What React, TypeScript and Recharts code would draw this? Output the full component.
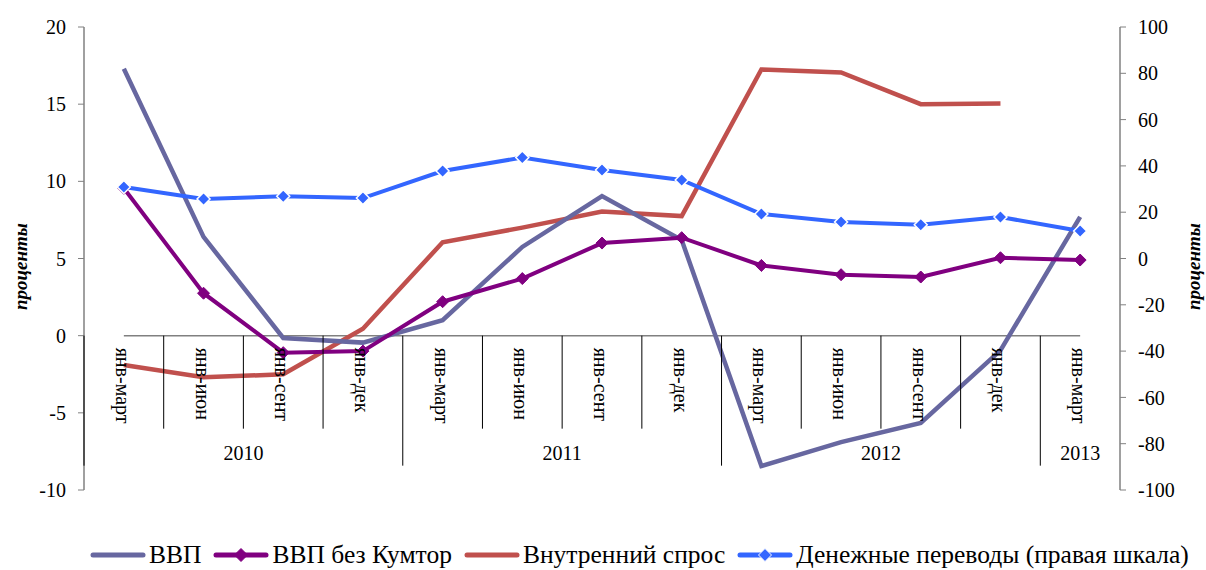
import React from 'react';
import { LineChart, Line, XAxis, YAxis, Legend } from 'recharts';

const categories = ['янв-март', 'янв-июн', 'янв-сент', 'янв-дек', 'янв-март', 'янв-июн', 'янв-сент', 'янв-дек', 'янв-март', 'янв-июн', 'янв-сент', 'янв-дек', 'янв-март'];
const yearLabels = ['2010', '2011', '2012', '2013'];
const yearSpans = [4, 4, 4, 1];
const gdp = [17.3, 6.4, -0.15, -0.45, 1.0, 5.75, 9.05, 6.2, -8.45, -6.9, -5.65, -0.95, 7.7];
const gdpExKumtor = [9.55, 2.75, -1.1, -1.0, 2.2, 3.7, 6.0, 6.35, 4.55, 3.95, 3.8, 5.05, 4.9];
const domesticDemand: (number | null)[] = [-1.9, -2.7, -2.5, 0.45, 6.05, 7.0, 8.05, 7.75, 17.25, 17.05, 15.0, 15.05, null];
const remittances = [30.9, 25.7, 26.9, 26.1, 37.8, 43.6, 38.2, 33.9, 19.2, 15.8, 14.6, 17.9, 11.9];

const leftTicks = [-10, -5, 0, 5, 10, 15, 20];
const rightTicks = [-100, -80, -60, -40, -20, 0, 20, 40, 60, 80, 100];

const series = [
  { key: 'gdp', name: 'ВВП', color: '#6767A0', marker: false },
  { key: 'gdpEx', name: 'ВВП без Кумтор', color: '#800080', marker: true },
  { key: 'dd', name: 'Внутренний спрос', color: '#C0504D', marker: false },
  { key: 'rem', name: 'Денежные переводы (правая шкала)', color: '#3366FF', marker: true },
];

const data = categories.map((c, i) => ({
  cat: c + '_' + i,
  label: c,
  gdp: gdp[i],
  gdpEx: gdpExKumtor[i],
  dd: domesticDemand[i],
  rem: remittances[i],
  zero: 0,
}));

const W = 1206;
const H = 570;
const PLOT = { left: 84, right: 1120, top: 27, bottom: 490 };
const YW = 60;
const XH = 30;
const M = { top: PLOT.top, left: PLOT.left - YW, right: W - PLOT.right - YW, bottom: H - PLOT.bottom - XH };
const plotW = PLOT.right - PLOT.left;
const plotH = PLOT.bottom - PLOT.top;
const band = plotW / categories.length;
const zeroY = PLOT.top + plotH * (20 / 30);
const FONT = '"Liberation Serif", "Times New Roman", Tinos, serif';

const yearStarts: number[] = [];
{
  let s = 0;
  yearSpans.forEach((n) => { yearStarts.push(s); s += n; });
}

const CatTick = (props: any) => {
  const { x, index, payload } = props;
  const idx = typeof index === 'number' ? index : 0;
  const left = x - band / 2;
  const yi = yearStarts.indexOf(idx);
  const isYearStart = yi >= 0;
  const label = categories[idx] ?? payload.value;
  return (
    <g>
      <line x1={left} x2={left} y1={zeroY} y2={zeroY + (isYearStart ? 130 : 93)} stroke="#000" strokeWidth={1} />
      <text
        x={x - 1}
        y={zeroY + 12}
        transform={`rotate(90 ${x - 1} ${zeroY + 12})`}
        textAnchor="start"
        dominantBaseline="central"
        fontFamily={FONT}
        fontSize={20}
        fill="#000"
      >
        {label}
      </text>
      {isYearStart && (
        <text
          x={left + (yearSpans[yi] * band) / 2}
          y={zeroY + 124}
          textAnchor="middle"
          fontFamily={FONT}
          fontSize={20}
          fill="#000"
        >
          {yearLabels[yi]}
        </text>
      )}
    </g>
  );
};

const makeDiamond = (color: string, r: number, stroke: string, sw: number) => (props: any) => {
  const { cx, cy, index } = props;
  if (cx == null || cy == null) return <g key={`d-${index}`} />;
  return (
    <path
      key={`d-${color}-${index}`}
      d={`M${cx},${cy - r} L${cx + r},${cy} L${cx},${cy + r} L${cx - r},${cy} Z`}
      fill={color}
      stroke={stroke}
      strokeWidth={sw}
    />
  );
};

const LegendContent = () => (
  <div style={{ display: 'flex', alignItems: 'center', paddingLeft: 90, height: 30, whiteSpace: 'nowrap' }}>
    {series.map((s) => (
      <div key={s.key} style={{ display: 'flex', alignItems: 'center', marginRight: 12 }}>
        <svg width={56} height={16} style={{ marginRight: 3, display: 'block' }}>
          <line x1={3} x2={53} y1={8} y2={8} stroke={s.color} strokeWidth={5} strokeLinecap="round" />
          {s.marker && (
            <path d="M28,1.5 L34.5,8 L28,14.5 L21.5,8 Z" fill={s.color} stroke={s.key === 'rem' ? '#fff' : s.color} strokeWidth={1} />
          )}
        </svg>
        <span style={{ fontFamily: FONT, fontSize: 25.5, color: '#000', lineHeight: '30px' }}>{s.name}</span>
      </div>
    ))}
  </div>
);

const AxisTitle = ({ cx }: { cx: number }) => {
  const cy = PLOT.top + plotH / 2 + 8;
  return (
    <text x={cx} y={cy} transform={`rotate(-90 ${cx} ${cy})`} textAnchor="middle" dominantBaseline="central" fontFamily={FONT} fontSize={19} fontWeight="bold" fontStyle="italic" fill="#000">
      проценты
    </text>
  );
};

const leftLabel = () => <AxisTitle cx={20} />;
const rightLabel = () => <AxisTitle cx={1193} />;

export default function App() {
  return (
    <div style={{ position: 'absolute', left: 0, top: 0, width: W, height: H, background: '#fff' }}>
      <LineChart width={W} height={H} data={data} margin={M}>
        <XAxis
          dataKey="cat"
          xAxisId="x"
          height={XH}
          axisLine={false}
          tickLine={false}
          interval={0}
          padding={{ left: band / 2, right: band / 2 }}
          tick={<CatTick />}
        />
        <YAxis
          yAxisId="left"
          orientation="left"
          width={YW}
          domain={[-10, 20]}
          ticks={leftTicks}
          interval={0}
          axisLine={{ stroke: '#808080', strokeWidth: 1.5 }}
          tickLine={{ stroke: '#808080' }}
          tickSize={6}
          tickMargin={12}
          tick={{ fontFamily: FONT, fontSize: 20, fill: '#000' }}
          label={{ content: leftLabel }}
        />
        <YAxis
          yAxisId="right"
          orientation="right"
          width={YW}
          domain={[-100, 100]}
          ticks={rightTicks}
          interval={0}
          axisLine={{ stroke: '#808080', strokeWidth: 1.5 }}
          tickLine={{ stroke: '#808080' }}
          tickSize={6}
          tickMargin={12}
          tick={{ fontFamily: FONT, fontSize: 20, fill: '#000' }}
          label={{ content: rightLabel }}
        />
        <Line xAxisId="x" yAxisId="left" dataKey="zero" stroke="#808080" strokeWidth={1.5} dot={false} activeDot={false} isAnimationActive={false} legendType="none" name="zero" />
        <Line xAxisId="x" yAxisId="left" type="linear" dataKey="dd" name="Внутренний спрос" stroke="#C0504D" strokeWidth={4.5} dot={false} isAnimationActive={false} />
        <Line xAxisId="x" yAxisId="left" type="linear" dataKey="gdp" name="ВВП" stroke="#6767A0" strokeWidth={4.5} dot={false} isAnimationActive={false} />
        <Line xAxisId="x" yAxisId="left" type="linear" dataKey="gdpEx" name="ВВП без Кумтор" stroke="#800080" strokeWidth={4} dot={makeDiamond('#800080', 6, '#800080', 1)} isAnimationActive={false} />
        <Line xAxisId="x" yAxisId="right" type="linear" dataKey="rem" name="Денежные переводы (правая шкала)" stroke="#3366FF" strokeWidth={4} dot={makeDiamond('#3366FF', 6.5, '#fff', 1.5)} isAnimationActive={false} />
        <Legend
          layout="horizontal"
          verticalAlign="middle"
          align="center"
          content={<LegendContent />}
          wrapperStyle={{ top: 540, left: 0, width: W, height: 30 }}
        />
      </LineChart>
    </div>
  );
}
